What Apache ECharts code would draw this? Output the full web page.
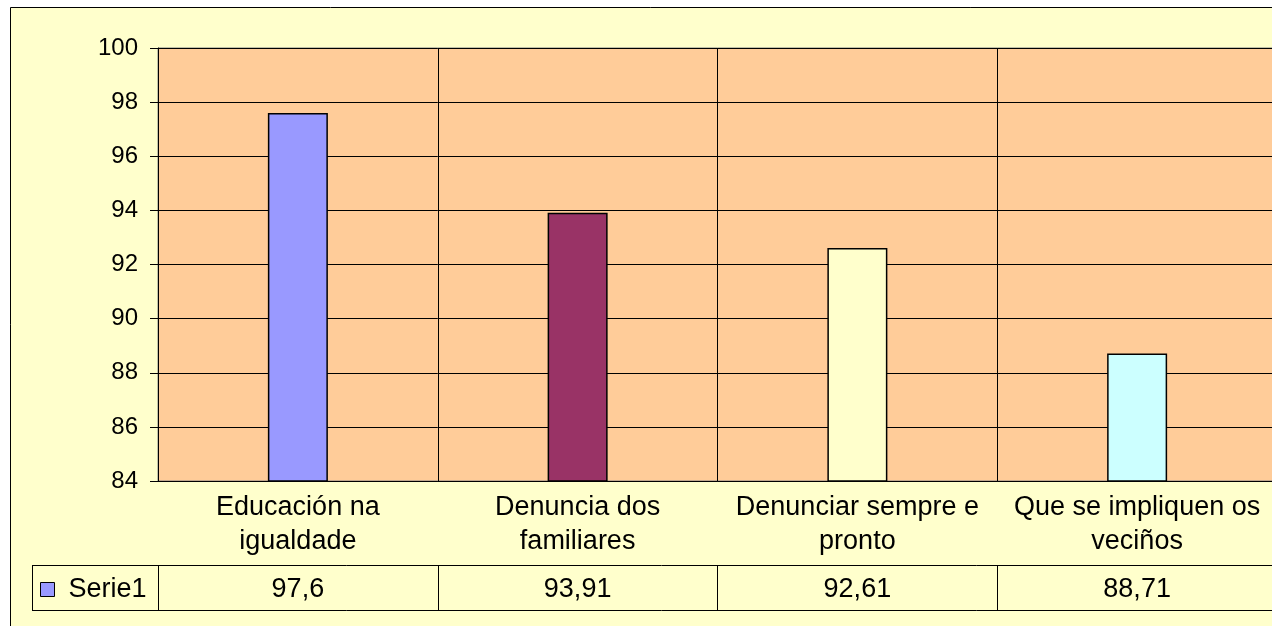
<!DOCTYPE html>
<html lang="es">
<head>
    <meta charset="UTF-8">
    <title>Serie1</title>
    <script src="https://cdn.jsdelivr.net/npm/echarts@6/dist/echarts.min.js"></script>
    <style>
        html, body { margin: 0; padding: 0; background: #fff; overflow: hidden; }
        #echarts { width: 1290px; height: 640px; }
    </style>
</head>
<body>
    <div id="echarts"></div>
    <script>
        // datos
        var categories = ['Educación na\nigualdade', 'Denuncia dos\nfamiliares', 'Denunciar sempre e\npronto', 'Que se impliquen os\nveciños'];
        var values = [97.6, 93.91, 92.61, 88.71];
        var barColors = ['#9999FF', '#993366', '#FFFFCC', '#CCFFFF'];
        var seriesName = 'Serie1';
        var yTicks = { min: 84, max: 100, interval: 2 };

        var font = 'Liberation Sans, Arial, sans-serif';

        var myChart = echarts.init(document.getElementById('echarts'));
        var option = {
            backgroundColor: '#fff',
            animation: false,
            graphic: [
                {   // fondo del gráfico
                    type: 'rect', z: -10,
                    shape: { x: 10.5, y: 7.5, width: 1400, height: 800 },
                    style: { fill: '#FFFFCC', stroke: '#000', lineWidth: 1 }
                },
                {   // líneas de la tabla
                    type: 'line', z: 10,
                    shape: { x1: 32, y1: 565.5, x2: 1400, y2: 565.5 },
                    style: { stroke: '#000', lineWidth: 1 }
                },
                {
                    type: 'line', z: 10,
                    shape: { x1: 32, y1: 610.5, x2: 1400, y2: 610.5 },
                    style: { stroke: '#000', lineWidth: 1 }
                },
                {
                    type: 'line', z: 10,
                    shape: { x1: 32.5, y1: 565, x2: 32.5, y2: 611 },
                    style: { stroke: '#000', lineWidth: 1 }
                }
            ],
            legend: {
                left: 35, top: 571,
                icon: 'rect',
                itemWidth: 14, itemHeight: 14,
                itemGap: 0,
                itemStyle: { borderColor: '#000', borderWidth: 1 },
                textStyle: { fontSize: 27, color: '#000', fontFamily: font, padding: [0, 0, 0, 9] },
                data: [seriesName]
            },
            grid: {
                left: 158, top: 48, width: 1119, height: 433,
                show: true,
                backgroundColor: '#FFCC99',
                borderColor: '#808080',
                borderWidth: 1
            },
            xAxis: [
                {
                    type: 'category',
                    data: categories,
                    axisLine: { lineStyle: { color: '#000', width: 1 } },
                    axisTick: { length: 130, interval: 0, lineStyle: { color: '#000' } },
                    splitLine: { show: true, interval: 0, lineStyle: { color: '#000', width: 1 } },
                    axisLabel: {
                        interval: 0, margin: 10,
                        fontSize: 27, lineHeight: 34,
                        color: '#000', fontFamily: font
                    }
                },
                {
                    type: 'category',
                    position: 'bottom',
                    offset: 84,
                    data: values.map(function (v) { return String(v).replace('.', ','); }),
                    axisLine: { show: false },
                    axisTick: { show: true, length: 46, interval: 0, lineStyle: { color: '#000' } },
                    axisLabel: {
                        interval: 0, margin: 11,
                        fontSize: 27,
                        color: '#000', fontFamily: font
                    }
                }
            ],
            yAxis: {
                type: 'value',
                min: yTicks.min, max: yTicks.max, interval: yTicks.interval,
                axisLine: { show: true, lineStyle: { color: '#000' } },
                axisTick: { show: true, length: 8, lineStyle: { color: '#000' } },
                splitLine: { lineStyle: { color: '#000', width: 1 } },
                axisLabel: { margin: 20, fontSize: 24, color: '#000', fontFamily: font }
            },
            series: [{
                name: seriesName,
                type: 'bar',
                barWidth: 60,
                itemStyle: { color: barColors[0], borderColor: '#000', borderWidth: 1.5 },
                data: values.map(function (v, i) {
                    return { value: v, itemStyle: { color: barColors[i] } };
                })
            }]
        };
        myChart.setOption(option);
    </script>
</body>
</html>
